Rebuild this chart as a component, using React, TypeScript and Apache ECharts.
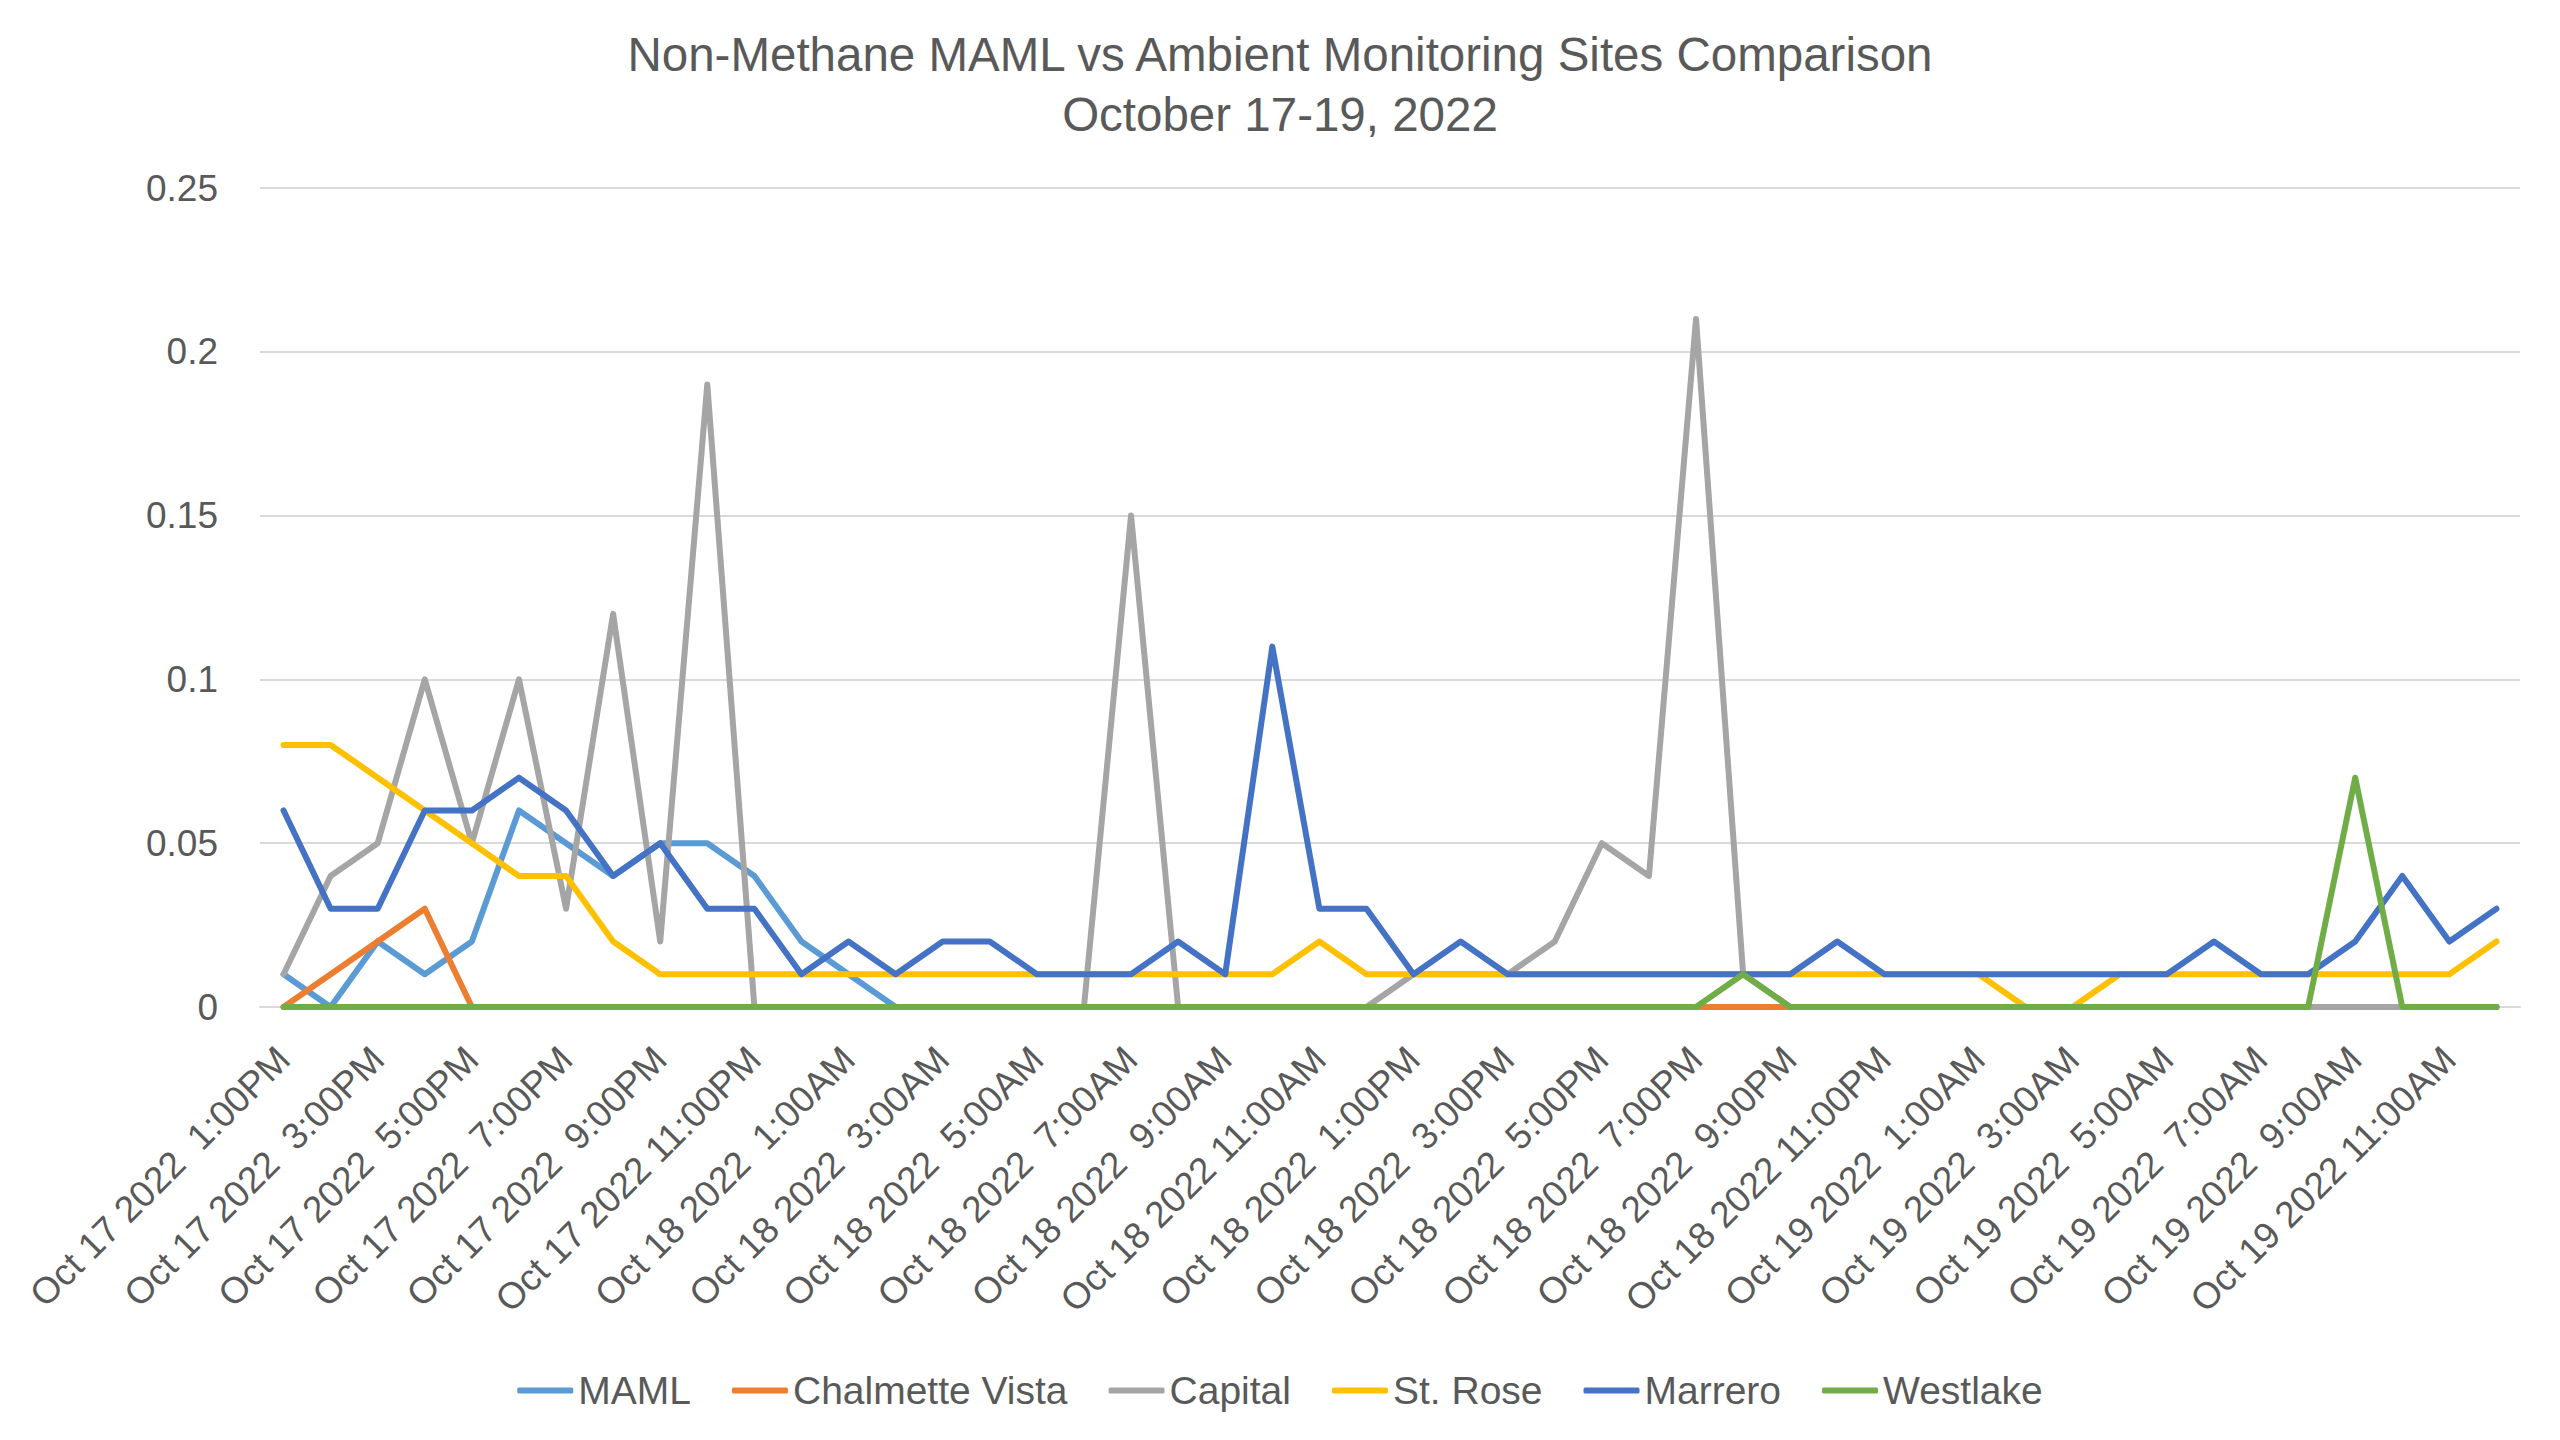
import React, { useEffect, useRef } from "react";
import * as echarts from "echarts";

const titleLines = [
  "Non-Methane MAML vs Ambient Monitoring Sites Comparison",
  "October 17-19, 2022",
];

const categories = [
  "Oct 17 2022  1:00PM", "Oct 17 2022  2:00PM", "Oct 17 2022  3:00PM", "Oct 17 2022  4:00PM",
  "Oct 17 2022  5:00PM", "Oct 17 2022  6:00PM", "Oct 17 2022  7:00PM", "Oct 17 2022  8:00PM",
  "Oct 17 2022  9:00PM", "Oct 17 2022 10:00PM", "Oct 17 2022 11:00PM",
  "Oct 18 2022 12:00AM", "Oct 18 2022  1:00AM", "Oct 18 2022  2:00AM", "Oct 18 2022  3:00AM",
  "Oct 18 2022  4:00AM", "Oct 18 2022  5:00AM", "Oct 18 2022  6:00AM", "Oct 18 2022  7:00AM",
  "Oct 18 2022  8:00AM", "Oct 18 2022  9:00AM", "Oct 18 2022 10:00AM", "Oct 18 2022 11:00AM",
  "Oct 18 2022 12:00PM", "Oct 18 2022  1:00PM", "Oct 18 2022  2:00PM", "Oct 18 2022  3:00PM",
  "Oct 18 2022  4:00PM", "Oct 18 2022  5:00PM", "Oct 18 2022  6:00PM", "Oct 18 2022  7:00PM",
  "Oct 18 2022  8:00PM", "Oct 18 2022  9:00PM", "Oct 18 2022 10:00PM", "Oct 18 2022 11:00PM",
  "Oct 19 2022 12:00AM", "Oct 19 2022  1:00AM", "Oct 19 2022  2:00AM", "Oct 19 2022  3:00AM",
  "Oct 19 2022  4:00AM", "Oct 19 2022  5:00AM", "Oct 19 2022  6:00AM", "Oct 19 2022  7:00AM",
  "Oct 19 2022  8:00AM", "Oct 19 2022  9:00AM", "Oct 19 2022 10:00AM", "Oct 19 2022 11:00AM",
  "Oct 19 2022 12:00PM",
];

const mamlValues = [
  0.01, 0, 0.02, 0.01, 0.02, 0.06, 0.05, 0.04, 0.05, 0.05, 0.04, 0.02,
  0.01, 0, 0, 0, 0, 0, 0, 0, 0, 0, 0, 0,
  0, 0, 0, 0, 0, 0, 0, 0, 0, 0, 0, 0,
  0, 0, 0, 0, 0, 0, 0, 0, 0, 0, 0, 0,
];

const chalmetteValues = [
  0, 0.01, 0.02, 0.03, 0, 0, 0, 0, 0, 0, 0, 0,
  0, 0, 0, 0, 0, 0, 0, 0, 0, 0, 0, 0,
  0, 0, 0, 0, 0, 0, 0, 0, 0, 0, 0, 0,
  0, 0, 0, 0, 0, 0, 0, 0, 0, 0, 0, 0,
];

const capitalValues = [
  0.01, 0.04, 0.05, 0.1, 0.05, 0.1, 0.03, 0.12, 0.02, 0.19, 0, 0,
  0, 0, 0, 0, 0, 0, 0.15, 0, 0, 0, 0, 0,
  0.01, 0.01, 0.01, 0.02, 0.05, 0.04, 0.21, 0.01, 0, 0, 0, 0,
  0, 0, 0, 0, 0, 0, 0, 0, 0, 0, 0, 0,
];

const stRoseValues = [
  0.08, 0.08, 0.07, 0.06, 0.05, 0.04, 0.04, 0.02, 0.01, 0.01, 0.01, 0.01,
  0.01, 0.01, 0.01, 0.01, 0.01, 0.01, 0.01, 0.01, 0.01, 0.01, 0.02, 0.01,
  0.01, 0.01, 0.01, 0.01, 0.01, 0.01, 0.01, 0.01, 0.01, 0.01, 0.01, 0.01,
  0.01, 0, 0, 0.01, 0.01, 0.01, 0.01, 0.01, 0.01, 0.01, 0.01, 0.02,
];

const marreroValues = [
  0.06, 0.03, 0.03, 0.06, 0.06, 0.07, 0.06, 0.04, 0.05, 0.03, 0.03, 0.01,
  0.02, 0.01, 0.02, 0.02, 0.01, 0.01, 0.01, 0.02, 0.01, 0.11, 0.03, 0.03,
  0.01, 0.02, 0.01, 0.01, 0.01, 0.01, 0.01, 0.01, 0.01, 0.02, 0.01, 0.01,
  0.01, 0.01, 0.01, 0.01, 0.01, 0.02, 0.01, 0.01, 0.02, 0.04, 0.02, 0.03,
];

const westlakeValues = [
  0, 0, 0, 0, 0, 0, 0, 0, 0, 0, 0, 0,
  0, 0, 0, 0, 0, 0, 0, 0, 0, 0, 0, 0,
  0, 0, 0, 0, 0, 0, 0, 0.01, 0, 0, 0, 0,
  0, 0, 0, 0, 0, 0, 0, 0, 0.07, 0, 0, 0,
];

const seriesNames = ["MAML", "Chalmette Vista", "Capital", "St. Rose", "Marrero", "Westlake"];
const seriesColors = ["#5B9BD5", "#ED7D31", "#A5A5A5", "#FFC000", "#4472C4", "#70AD47"];
const seriesValues = [
  mamlValues,
  chalmetteValues,
  capitalValues,
  stRoseValues,
  marreroValues,
  westlakeValues,
];

const FONT = "'Liberation Sans', Arial, sans-serif";
const TEXT = "#595959";
const GRID = "#D9D9D9";

export default function App() {
  const ref = useRef<HTMLDivElement>(null);

  useEffect(() => {
    if (!ref.current) return;
    const chart = echarts.init(ref.current, undefined, { renderer: "svg" });
    chart.setOption({
      animation: false,
      backgroundColor: "#FFFFFF",
      textStyle: { fontFamily: FONT },
      title: {
        text: titleLines.join("\n"),
        left: "center",
        top: 19,
        textStyle: {
          fontFamily: FONT,
          fontSize: 47.5,
          fontWeight: "normal",
          color: TEXT,
          lineHeight: 60,
          align: "center",
        },
      },
      legend: {
        data: seriesNames,
        left: "center",
        top: 1366,
        icon: "roundRect",
        itemWidth: 56,
        itemHeight: 6,
        itemGap: 41,
        textStyle: { fontFamily: FONT, fontSize: 39, color: TEXT },
      },
      grid: {
        left: 260,
        right: 40,
        top: 188,
        bottom: 433,
      },
      xAxis: {
        type: "category",
        data: categories,
        boundaryGap: true,
        axisLine: { show: true, lineStyle: { color: GRID, width: 2 } },
        axisTick: { show: false },
        axisLabel: {
          interval: 1,
          rotate: 45,
          margin: 46,
          fontFamily: FONT,
          fontSize: 37,
          color: TEXT,
        },
        splitLine: { show: false },
      },
      yAxis: {
        type: "value",
        min: 0,
        max: 0.25,
        interval: 0.05,
        axisLine: { show: false },
        axisTick: { show: false },
        axisLabel: {
          margin: 42,
          fontFamily: FONT,
          fontSize: 37,
          color: TEXT,
        },
        splitLine: { show: true, lineStyle: { color: GRID, width: 2 } },
      },
      series: seriesNames.map((name, k) => ({
        name,
        type: "line",
        data: seriesValues[k],
        symbol: "none",
        showSymbol: false,
        color: seriesColors[k],
        lineStyle: { color: seriesColors[k], width: 6, cap: "round", join: "round" },
        emphasis: { disabled: true },
      })),
    });
    return () => chart.dispose();
  }, []);

  return (
    <div
      ref={ref}
      style={{ position: "fixed", left: 0, top: 0, width: 2560, height: 1440, background: "#fff" }}
    />
  );
}
